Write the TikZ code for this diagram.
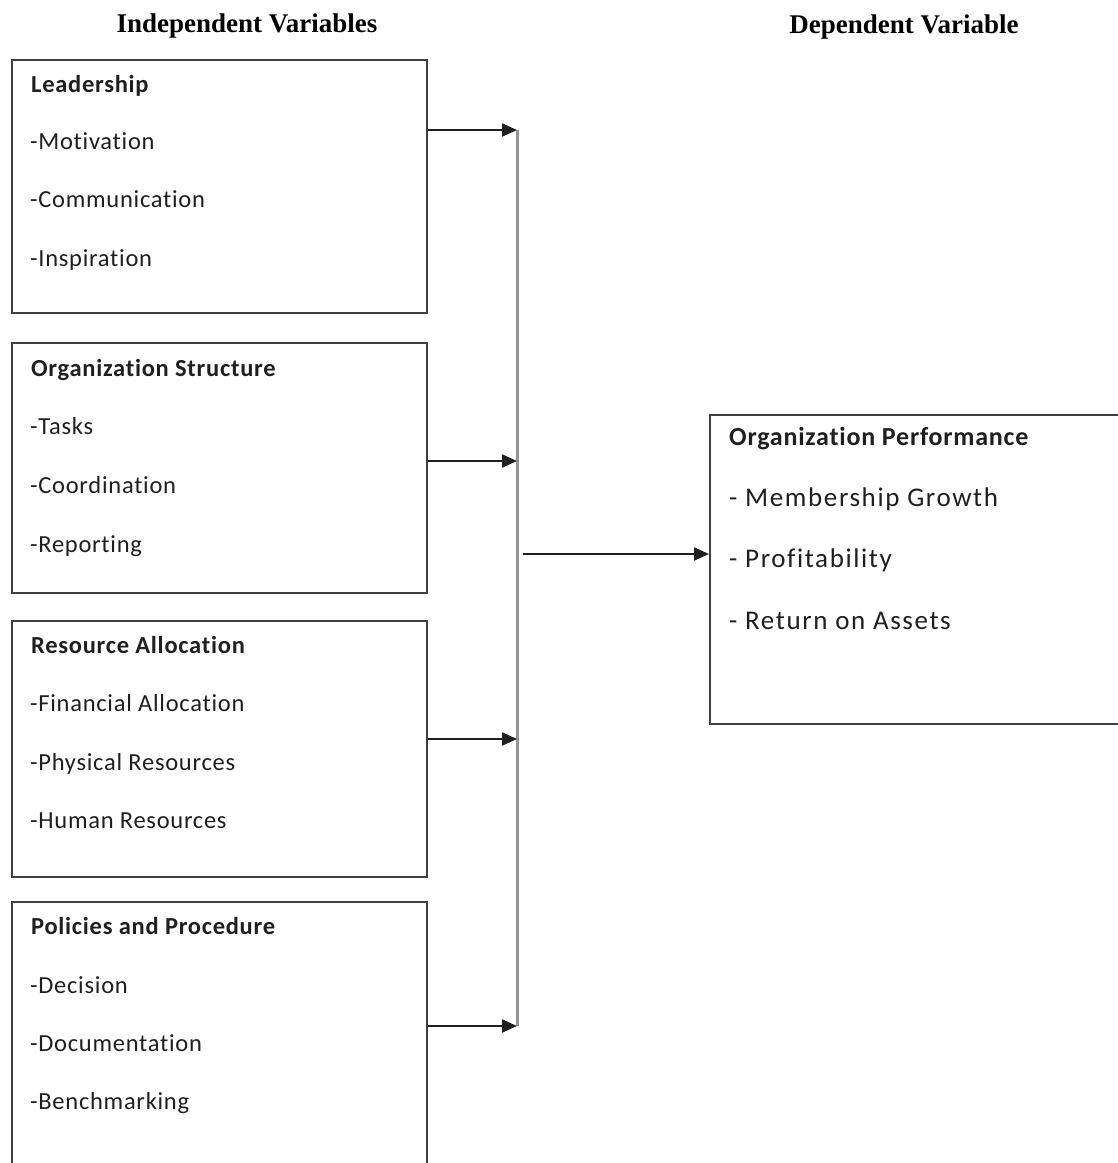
\documentclass[tikz,border=0pt]{standalone}
\usepackage{fontspec}
\setmainfont{Liberation Serif}
\newfontfamily\boxfont[Ligatures=NoCommon,LetterSpace=3]{Carlito}
\newfontfamily\rboxfont[Ligatures=NoCommon,LetterSpace=3]{Carlito}
\newfontfamily\ritemfont[Ligatures=NoCommon,LetterSpace=6]{Carlito}
\usetikzlibrary{arrows.meta}
\begin{document}
\begin{tikzpicture}[x=1pt,y=-1pt,
  title/.style={font=\fontsize{27}{32}\selectfont\bfseries, anchor=base, inner sep=0pt},
  varbox/.style={draw=black!75, line width=1.6pt, rectangle, inner sep=0pt, anchor=north west},
  head/.style={font=\boxfont\fontsize{24.5}{29}\selectfont\bfseries, text=black!88, anchor=base west, inner sep=0pt},
  item/.style={font=\boxfont\fontsize{24.5}{29}\selectfont, text=black!88, anchor=base west, inner sep=0pt},
  rhead/.style={font=\rboxfont\fontsize{26}{31}\selectfont\bfseries, text=black!88, anchor=base west, inner sep=0pt},
  ritem/.style={font=\ritemfont\fontsize{27}{32}\selectfont, text=black!88, anchor=base west, inner sep=0pt},
  bus/.style={draw=black!42, line width=3pt},
  arr/.style={draw=black!88, line width=2.2pt, -{Triangle[length=15pt,width=13pt]}}
]
\useasboundingbox (0,0) rectangle (1118,1163);
\clip (0,0) rectangle (1118,1163);

% titles
\node[title] (tind) at (247,32) {Independent Variables};
\node[title] (tdep) at (904,33) {Dependent Variable};

% left boxes
\node[varbox, minimum width=415pt, minimum height=253pt] (b1) at (11,59) {};
\node[varbox, minimum width=415pt, minimum height=250pt] (b2) at (11,342) {};
\node[varbox, minimum width=415pt, minimum height=256pt] (b3) at (11,620) {};
\node[varbox, minimum width=415pt, minimum height=290pt] (b4) at (11,901) {};

% right box (cut by the page edge)
\node[varbox, minimum width=430pt, minimum height=309pt] (rb) at (709,414) {};

% box 1 text
\node[head] (l1) at (31,92) {Leadership};
\node[item] (l2) at (30,149) {-Motivation};
\node[item] (l3) at (30,207) {-Communication};
\node[item] (l4) at (30,266) {-Inspiration};
% box 2 text
\node[head] (o1) at (31,376) {Organization Structure};
\node[item] (o2) at (30,434) {-Tasks};
\node[item] (o3) at (30,493) {-Coordination};
\node[item] (o4) at (30,552) {-Reporting};
% box 3 text
\node[head] (r1) at (31,653) {Resource Allocation};
\node[item] (r2) at (30,711) {-Financial Allocation};
\node[item] (r3) at (30,770) {-Physical Resources};
\node[item] (r4) at (30,828) {-Human Resources};
% box 4 text
\node[head] (p1) at (31,934) {Policies and Procedure};
\node[item] (p2) at (30,993) {-Decision};
\node[item] (p3) at (30,1051) {-Documentation};
\node[item] (p4) at (30,1109) {-Benchmarking};
% right box text
\node[rhead] (g1) at (729,445) {Organization Performance};
\node[ritem] (g2) at (729,506) {- Membership Growth};
\node[ritem] (g3) at (729,567) {- Profitability};
\node[ritem] (g4) at (729,629) {- Return on Assets};

% bus line
\coordinate (j1) at (517,130);
\coordinate (j2) at (517,461);
\coordinate (j3) at (517,739);
\coordinate (j4) at (517,1026);
\coordinate (jout) at (523,554);
\draw[bus] (j1) -- (j4);

% arrows
\draw[arr] (b1.east |- j1) -- (j1);
\draw[arr] (b2.east |- j2) -- (j2);
\draw[arr] (b3.east |- j3) -- (j3);
\draw[arr] (b4.east |- j4) -- (j4);
\draw[arr] (jout) -- (rb.west |- jout);
\end{tikzpicture}
\end{document}
